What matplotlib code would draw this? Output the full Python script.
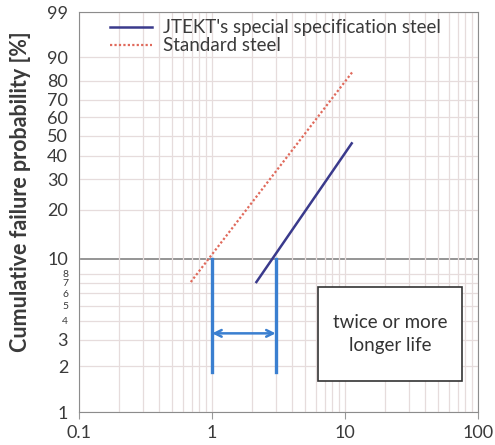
import numpy as np
import matplotlib.pyplot as plt
from matplotlib.ticker import FixedLocator, NullFormatter, LogLocator
from matplotlib.patches import Rectangle

plt.rcParams['font.family'] = ['Lato', 'DejaVu Sans']

# data (life ratio vs. cumulative failure %)
std_life = [0.69, 11.3]
std_prob = [7.1, 84]
jtekt_life = [2.15, 11.2]
jtekt_prob = [7.1, 46]

ytick_vals = [1, 2, 3, 4, 5, 6, 7, 8, 10, 20, 30, 40, 50, 60, 70, 80, 90, 99]
xtick_vals = [0.1, 1, 10, 100]

# marker lines for the B10 comparison
b10_left = 1.0
b10_right = 3.0
b10_prob = 10
bar_bottom = 1.85
arrow_prob = 3.3


def weib(p):
    p = np.clip(np.asarray(p, dtype=float), 1e-6, 99.9999)
    return np.log(-np.log(1 - p / 100.0))


def weib_inv(w):
    return 100.0 * (1 - np.exp(-np.exp(np.asarray(w, dtype=float))))


fig = plt.figure(figsize=(4.95, 4.45), dpi=100)
ax = fig.add_axes([0.16, 0.074, 0.806, 0.899])
ax.set_xscale('log')
ax.set_yscale('function', functions=(weib, weib_inv))
ax.set_xlim(0.1, 100)
ax.set_ylim(1, 99)

grid_c = '#e6dcdc'
ax.xaxis.set_minor_locator(LogLocator(base=10, subs=np.arange(2, 10)))
ax.xaxis.set_minor_formatter(NullFormatter())
ax.grid(True, which='both', axis='x', color=grid_c, lw=0.9)
for v in ytick_vals:
    if v != 10:
        ax.axhline(v, color=grid_c, lw=0.9, zorder=0)
ax.axhline(10, color='#8c8c8c', lw=1.3, zorder=1)

ax.yaxis.set_major_locator(FixedLocator(ytick_vals))
ax.set_yticklabels([str(v) for v in ytick_vals])
ax.yaxis.set_minor_locator(FixedLocator([]))
ax.set_xticks(xtick_vals)
ax.set_xticklabels(['0.1', '1', '10', '100'])

ax.tick_params(axis='y', length=0, labelsize=13, colors='#3a3a3a', pad=8)
ax.tick_params(axis='x', which='major', length=5, labelsize=13, colors='#3a3a3a', pad=4)
ax.tick_params(axis='x', which='minor', length=0)
ax.tick_params(axis='x', which='major', color='#999999')
# the crowded labels between 3 and 10 are drawn smaller
for v, lab in zip(ytick_vals, ax.get_yticklabels()):
    if 4 <= v <= 8:
        lab.set_fontsize(7.5)
for s in ax.spines.values():
    s.set_color('#8c8c8c')

ax.set_ylabel('Cumulative failure probability [%]', fontsize=15.5,
              fontweight='bold', color='#3a3a3a')
ax.yaxis.set_label_coords(-0.12, 0.55)

ax.plot(jtekt_life, jtekt_prob, color='#3a3a8c', lw=1.8,
        label="JTEKT's special specification steel", zorder=4)
ax.plot(std_life, std_prob, color='#e06a5c', lw=1.6, ls=(0, (1, 1)),
        label='Standard steel', zorder=4)

blue = '#3a7fd0'
ax.plot([b10_left, b10_left], [bar_bottom, b10_prob], color=blue, lw=2.4, zorder=5)
ax.plot([b10_right, b10_right], [bar_bottom, b10_prob], color=blue, lw=2.4, zorder=5)
ax.annotate('', xy=(b10_left, arrow_prob), xytext=(b10_right, arrow_prob),
            arrowprops=dict(arrowstyle='<->', color=blue, lw=1.8,
                            mutation_scale=12, shrinkA=0, shrinkB=0), zorder=5)

ax.add_patch(Rectangle((0.599, 0.078), 0.361, 0.235, transform=ax.transAxes,
                       fc='white', ec='#333333', lw=1.2, zorder=6))
ax.text(0.78, 0.196, 'twice or more\nlonger life', transform=ax.transAxes,
        ha='center', va='center', fontsize=13.5, color='#333333', linespacing=1.45,
        zorder=7)

leg = ax.legend(loc='upper left', bbox_to_anchor=(0.05, 1.01), frameon=False,
                fontsize=13.5, handlelength=2.2, labelspacing=0.05,
                handletextpad=0.6, borderaxespad=0.2)
for t in leg.get_texts():
    t.set_color('#3a3a3a')

fig.savefig('out.png', dpi=100)
